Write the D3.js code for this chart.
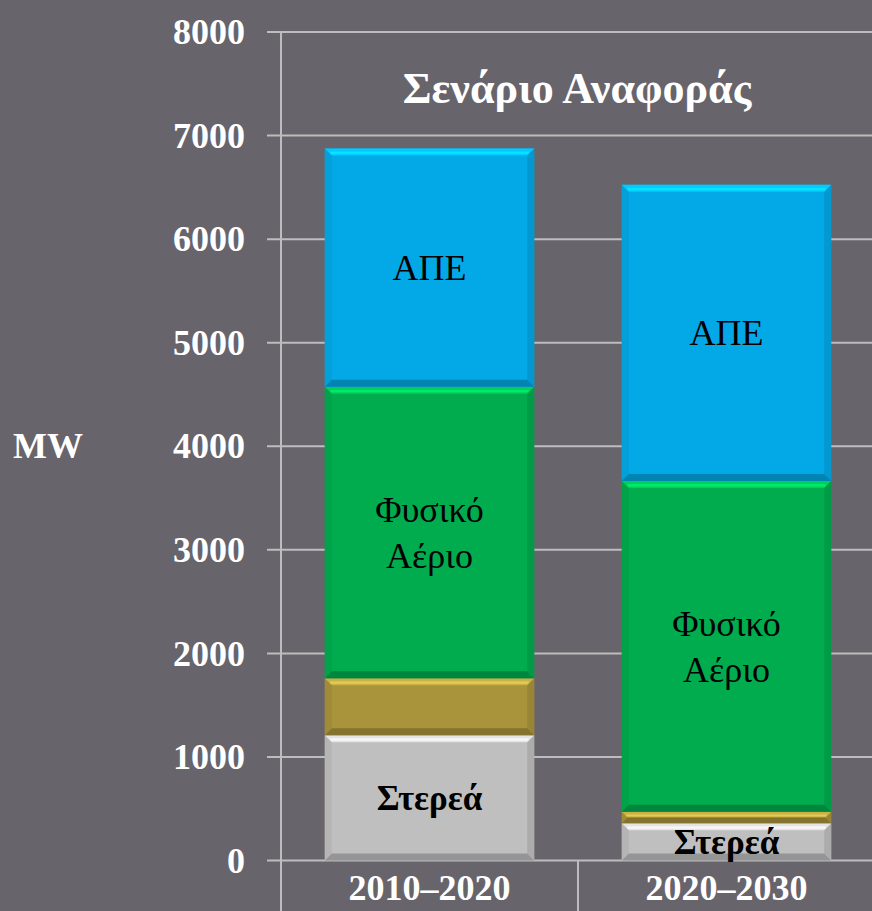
<!DOCTYPE html>
<html>
<head>
<meta charset="utf-8">
<script src="https://cdn.jsdelivr.net/npm/d3@7"></script>
<style>
  html, body { margin: 0; padding: 0; background: #68646b; }
  svg { display: block; }
</style>
</head>
<body>
<svg id="chart" width="872" height="911"></svg>
<script>
// data
var periods = ["2010-2020", "2020-2030"];
var series = ["Στερεά", "Πετρέλαιο", "Φυσικό Αέριο", "ΑΠΕ"];
var solids = [1210, 360];
var oil = [550, 110];
var gas = [2815, 3195];
var renew = [2300, 2860];
var yTicks = [0, 1000, 2000, 3000, 4000, 5000, 6000, 7000, 8000];

var colors = ["#bfbfbf", "#a9943b", "#00ac4e", "#03a9e6"];
// label shown in each segment (per series), lines split by |
var segLabels = ["Στερεά", "", "Φυσικό|Αέριο", "ΑΠΕ"];

var svg = d3.select("#chart");
var width = 872, height = 911;
var serif = "'Liberation Serif', 'DejaVu Serif', serif";

var y = d3.scaleLinear().domain([0, 8000]).range([860.5, 32]);
var x = d3.scaleBand().domain(periods).range([281, 875]).padding(0);
var barW = x.bandwidth() * 0.705;

// grid lines (extend left of the axis like tick marks)
svg.append("g").selectAll("line")
    .data(yTicks)
    .join("line")
    .attr("x1", 267).attr("x2", width)
    .attr("y1", function(d) { return y(d); })
    .attr("y2", function(d) { return y(d); })
    .attr("stroke", "#bdbcbe")
    .attr("stroke-width", 2);

// vertical axis and category separators below the axis
svg.append("line")
    .attr("x1", 281).attr("x2", 281).attr("y1", y(8000)).attr("y2", height)
    .attr("stroke", "#bdbcbe").attr("stroke-width", 2);
svg.append("g").selectAll("line")
    .data(periods.slice(1))
    .join("line")
    .attr("x1", function(d) { return x(d); })
    .attr("x2", function(d) { return x(d); })
    .attr("y1", y(0)).attr("y2", height)
    .attr("stroke", "#bdbcbe").attr("stroke-width", 2);

// y tick labels
svg.append("g").selectAll("text")
    .data(yTicks)
    .join("text")
    .attr("x", 245)
    .attr("y", function(d) { return y(d); })
    .attr("dy", "0.34em")
    .attr("text-anchor", "end")
    .attr("font-family", serif)
    .attr("font-weight", "bold")
    .attr("font-size", 36)
    .attr("fill", "#ffffff")
    .text(function(d) { return d; });

// axis title
svg.append("text")
    .attr("x", 48).attr("y", 446).attr("dy", "0.34em")
    .attr("text-anchor", "middle")
    .attr("font-family", serif).attr("font-weight", "bold")
    .attr("font-size", 36).attr("fill", "#ffffff")
    .text("MW");

// category labels
svg.append("g").selectAll("text")
    .data(periods)
    .join("text")
    .attr("x", function(d) { return x(d) + x.bandwidth() / 2; })
    .attr("y", 888).attr("dy", "0.34em")
    .attr("text-anchor", "middle")
    .attr("font-family", serif).attr("font-weight", "bold")
    .attr("font-size", 36).attr("fill", "#ffffff")
    .text(function(d) { return d.replace("-", "–"); });

// stacked data
var rows = periods.map(function(p, i) {
    return { period: p, s0: solids[i], s1: oil[i], s2: gas[i], s3: renew[i] };
});
var stack = d3.stack().keys(["s0", "s1", "s2", "s3"]);
var layers = stack(rows);

var bevel = 7;
function drawSegment(g, x0, x1, y0, y1, col) {
    var c = d3.color(col);
    var b = Math.min(bevel, (y1 - y0) / 2);
    g.append("rect").attr("x", x0).attr("y", y0)
        .attr("width", x1 - x0).attr("height", y1 - y0).attr("fill", col);
    // left / right sides
    g.append("polygon")
        .attr("points", [[x0, y0], [x0 + b, y0 + b], [x0 + b, y1 - b], [x0, y1]].join(" "))
        .attr("fill", c.darker(0.15));
    g.append("polygon")
        .attr("points", [[x1, y0], [x1 - b, y0 + b], [x1 - b, y1 - b], [x1, y1]].join(" "))
        .attr("fill", c.darker(0.3));
    // top highlight
    g.append("polygon")
        .attr("points", [[x0, y0], [x1, y0], [x1 - b, y0 + b], [x0 + b, y0 + b]].join(" "))
        .attr("fill", c.brighter(0.5));
    g.append("rect").attr("x", x0 + b * 0.8).attr("y", y0 + b * 0.45)
        .attr("width", x1 - x0 - b * 1.6).attr("height", Math.max(1, b * 0.35))
        .attr("fill", c.brighter(1.0)).attr("opacity", 0.7);
    // bottom shadow
    g.append("polygon")
        .attr("points", [[x0, y1], [x1, y1], [x1 - b, y1 - b], [x0 + b, y1 - b]].join(" "))
        .attr("fill", c.darker(0.7));
}

var bars = svg.append("g");
layers.forEach(function(layer, li) {
    layer.forEach(function(d, i) {
        var cx = x(periods[i]) + x.bandwidth() / 2;
        drawSegment(bars, cx - barW / 2, cx + barW / 2, y(d[1]), y(d[0]), colors[li]);
    });
});

// labels inside the segments
layers.forEach(function(layer, li) {
    if (!segLabels[li]) return;
    var lines = segLabels[li].split("|");
    layer.forEach(function(d, i) {
        var cx = x(periods[i]) + x.bandwidth() / 2;
        var cy = (y(d[0]) + y(d[1])) / 2;
        var bold = li === 0;
        var t = svg.append("text")
            .attr("text-anchor", "middle")
            .attr("font-family", serif)
            .attr("font-weight", bold ? "bold" : "normal")
            .attr("font-size", bold ? 35 : 36)
            .attr("fill", "#000000");
        var lh = 46;
        lines.forEach(function(s, k) {
            t.append("tspan")
                .attr("x", cx)
                .attr("y", cy + (k - (lines.length - 1) / 2) * lh)
                .attr("dy", "0.34em")
                .text(s);
        });
    });
});

// chart title
svg.append("text")
    .attr("x", 577).attr("y", 88).attr("dy", "0.34em")
    .attr("text-anchor", "middle")
    .attr("font-family", serif).attr("font-weight", "bold")
    .attr("font-size", 44).attr("fill", "#ffffff")
    .text("Σενάριο Αναφοράς");
</script>
</body>
</html>
